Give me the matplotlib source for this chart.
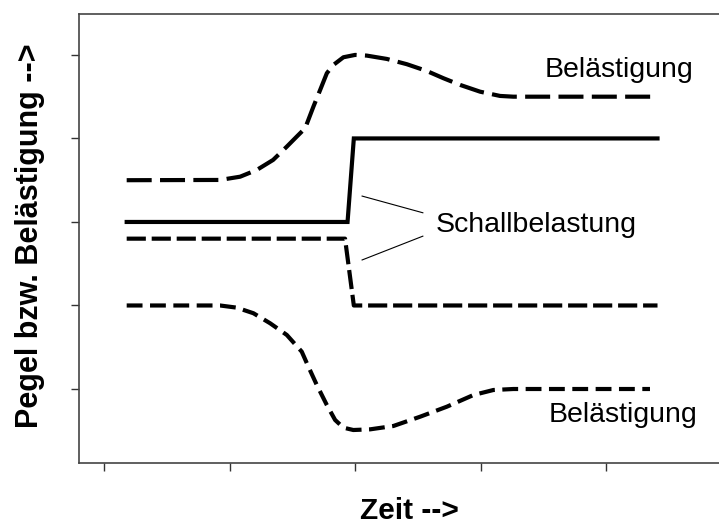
import matplotlib
matplotlib.use("Agg")
import matplotlib.pyplot as plt

plt.rcParams['font.family'] = ['Liberation Sans', 'DejaVu Sans']

# Schallbelastung (solid, level step up)
schall_hoch_x = [0.18, 1.94, 1.99, 4.41]
schall_hoch_y = [3.0, 3.0, 4.0, 4.0]

# Schallbelastung (dashed, level step down)
schall_tief_x = [0.18, 1.92, 1.99, 4.41]
schall_tief_y = [2.8, 2.8, 2.0, 2.0]

# Belaestigung rising
bel_hoch_x = [0.18, 0.924, 1.084, 1.217, 1.347, 1.456, 1.535, 1.602, 1.668,
              1.721, 1.775, 1.827, 1.907, 2.0, 2.093, 2.253, 2.412, 2.571,
              2.704, 2.837, 2.996, 3.155, 3.261, 4.41]
bel_hoch_y = [3.5, 3.503, 3.542, 3.623, 3.743, 3.902, 4.022, 4.122, 4.381,
              4.578, 4.781, 4.88, 4.972, 5.0, 4.992, 4.952, 4.889, 4.808,
              4.721, 4.641, 4.56, 4.509, 4.5, 4.5]

# Belaestigung falling
bel_tief_x = [0.18, 0.924, 1.057, 1.19, 1.323, 1.456, 1.575, 1.628, 1.695,
              1.775, 1.841, 1.907, 1.986, 2.12, 2.305, 2.518, 2.731, 2.943,
              3.102, 3.261, 4.35]
bel_tief_y = [2.0, 2.0, 1.974, 1.907, 1.787, 1.647, 1.447, 1.267, 1.048,
              0.808, 0.629, 0.537, 0.509, 0.517, 0.557, 0.668, 0.788, 0.928,
              0.988, 1.0, 1.0]

x_ticks = [0, 1, 2, 3, 4]
y_ticks = [1, 2, 3, 4, 5]

fig = plt.figure(figsize=(7.19, 5.27), dpi=100)
ax = fig.add_axes([79 / 719, 1 - 463 / 527, 640 / 719, 449 / 527])

ax.plot(schall_hoch_x, schall_hoch_y, color='black', lw=3,
        solid_joinstyle='miter')
ax.plot(schall_tief_x, schall_tief_y, color='black', lw=3,
        dashes=(4.6, 1.4), dash_capstyle='butt')
ax.plot(bel_hoch_x, bel_hoch_y, color='black', lw=3,
        dashes=(6, 2), dash_capstyle='butt', dash_joinstyle='round')
ax.plot(bel_tief_x, bel_tief_y, color='black', lw=3,
        dashes=(3.8, 1.8), dash_capstyle='butt', dash_joinstyle='round')

# leader lines to the label
ax.plot([2.056, 2.54], [3.31, 3.11], color='black', lw=0.8)
ax.plot([2.54, 2.056], [2.83, 2.545], color='black', lw=0.8)

ax.text(2.645, 2.96, 'Schallbelastung', fontsize=20.5, va='center', ha='left')
ax.text(3.51, 4.74, 'Belästigung', fontsize=20.5, va='baseline', ha='left')
ax.text(3.54, 0.605, 'Belästigung', fontsize=20.5, va='baseline', ha='left')

ax.set_xlim(-0.2, 4.9)
ax.set_ylim(0.114, 5.49)
ax.set_xticks(x_ticks)
ax.set_yticks(y_ticks)
ax.set_xticklabels([])
ax.set_yticklabels([])
ax.tick_params(direction='out', length=6, width=1, color='#333333')
for side in ['left', 'bottom', 'top']:
    ax.spines[side].set_color('#444444')
    ax.spines[side].set_linewidth(1.2)
ax.spines['right'].set_visible(False)

fig.text(409 / 719, 1 - 511 / 527, 'Zeit -->', fontsize=21.5, fontweight='bold',
         ha='center', va='center')
fig.text(30 / 719, 1 - 236 / 527, 'Pegel bzw. Belästigung -->', fontsize=22,
         fontweight='bold', rotation=90, ha='center', va='center')

fig.savefig('out.png', dpi=100)
